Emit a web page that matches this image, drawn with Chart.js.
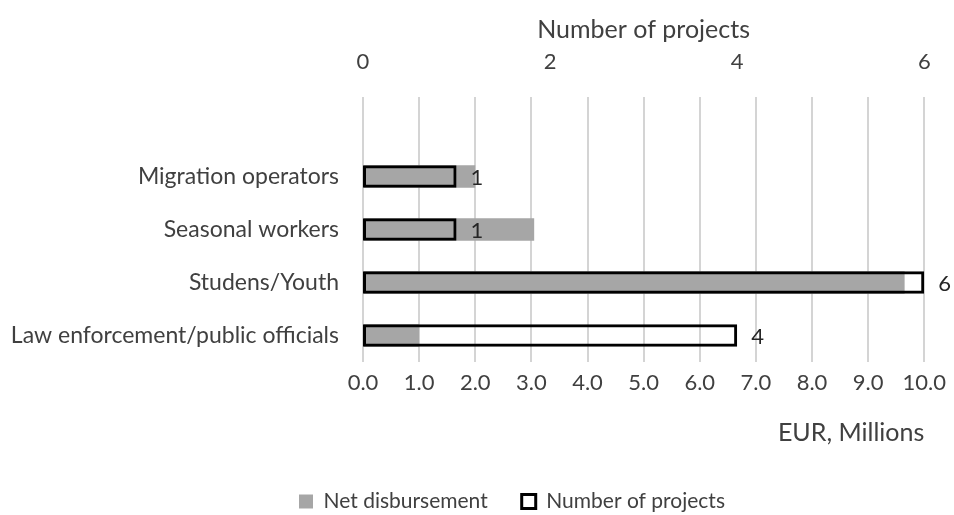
<!DOCTYPE html>
<html>
<head>
<meta charset="utf-8">
<script src="https://cdn.jsdelivr.net/npm/chart.js@4.4.1/dist/chart.umd.min.js"></script>
<style>
  html, body { margin: 0; padding: 0; background: #fff; }
  #wrap { width: 954px; height: 515px; }
</style>
</head>
<body>
<div id="wrap"><canvas id="projChart" width="954" height="515"></canvas></div>
<script>
const categories = [
    'Migration operators',
    'Seasonal workers',
    'Studens/Youth',
    'Law enforcement/public officials'
];
const netDisbursement = [2.0, 3.05, 9.65, 1.0];   // EUR, Millions
const projectCounts = [1, 1, 6, 4];
const eurTicks = [0, 1, 2, 3, 4, 5, 6, 7, 8, 9, 10];
const projectTicks = [0, 2, 4, 6];

const textColor = '#404040';
const fontFamily = 'Lato, "Open Sans", sans-serif';

// empty row on top leaves the gap under the upper axis
const rowLabels = [''].concat(categories);

// number labels to the right of the project bars
const countLabels = {
    id: 'countLabels',
    afterDatasetsDraw(chart) {
        const meta = chart.getDatasetMeta(1);
        const ctx = chart.ctx;
        ctx.save();
        ctx.font = '22px ' + fontFamily;
        ctx.fillStyle = '#262626';
        ctx.textAlign = 'left';
        ctx.textBaseline = 'middle';
        meta.data.forEach((bar, i) => {
            const v = chart.data.datasets[1].data[i];
            if (v == null) return;
            ctx.fillText(String(v), bar.x + 14, bar.y + 1);
        });
        ctx.restore();
    }
};

// nudge the legend right and down
const legendShift = {
    id: 'legendShift',
    afterLayout(chart) {
        const lg = chart.legend;
        lg.left += 35;
        lg.right += 35;
        lg.top += 7;
        lg.bottom += 7;
    }
};

Chart.defaults.font.family = fontFamily;
Chart.defaults.color = textColor;

new Chart(document.getElementById('projChart'), {
    type: 'bar',
    data: {
        labels: rowLabels,
        datasets: [
            {
                label: 'Net disbursement',
                data: [null].concat(netDisbursement),
                xAxisID: 'x',
                backgroundColor: '#a6a6a6',
                borderWidth: 0,
                barPercentage: 0.85,
                categoryPercentage: 0.5,
                order: 2
            },
            {
                label: 'Number of projects',
                data: [null].concat(projectCounts),
                xAxisID: 'x2',
                backgroundColor: 'rgba(0,0,0,0)',
                borderColor: '#000',
                borderWidth: 3,
                borderSkipped: false,
                barPercentage: 0.85,
                categoryPercentage: 0.5,
                order: 1
            }
        ]
    },
    options: {
        indexAxis: 'y',
        responsive: false,
        animation: false,
        grouped: false,
        layout: { padding: { left: 10, right: 10, top: 10, bottom: 0 } },
        scales: {
            y: {
                grid: { display: false, drawTicks: false },
                border: { display: false },
                ticks: { font: { size: 23 }, color: textColor, padding: 24 },
                afterFit(scale) { scale.width = 353; }
            },
            x: {
                position: 'bottom',
                min: 0,
                max: 10,
                afterBuildTicks(scale) { scale.ticks = eurTicks.map(v => ({ value: v })); },
                afterFit(scale) { scale.height = 88; },
                grid: { color: '#d4d4d4', lineWidth: 2, drawTicks: false },
                border: { display: false },
                ticks: {
                    font: { size: 22 },
                    color: textColor,
                    padding: 8,
                    callback: v => Number(v).toFixed(1)
                },
                title: {
                    display: true,
                    text: 'EUR, Millions',
                    align: 'end',
                    font: { size: 25 },
                    color: textColor,
                    padding: { top: 0, bottom: 2 }
                }
            },
            x2: {
                position: 'top',
                min: 0,
                max: 6,
                afterBuildTicks(scale) { scale.ticks = projectTicks.map(v => ({ value: v })); },
                afterFit(scale) { scale.height = 87; },
                grid: { display: false, drawTicks: false },
                border: { display: false },
                ticks: { font: { size: 22 }, color: textColor, padding: 22 },
                title: {
                    display: true,
                    text: 'Number of projects',
                    font: { size: 25 },
                    color: textColor,
                    padding: { top: 5, bottom: 0 }
                }
            }
        },
        plugins: {
            legend: {
                position: 'bottom',
                labels: {
                    boxWidth: 14,
                    boxHeight: 14,
                    padding: 34,
                    font: { size: 21 },
                    color: textColor,
                    sort: (a, b) => a.datasetIndex - b.datasetIndex
                }
            },
            tooltip: { enabled: false }
        }
    },
    plugins: [countLabels, legendShift]
});
</script>
</body>
</html>
